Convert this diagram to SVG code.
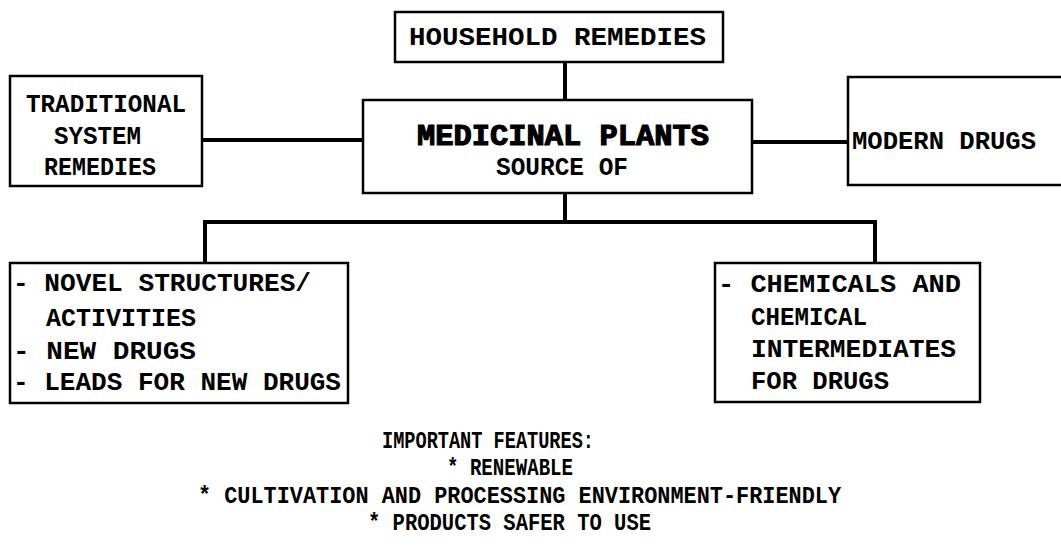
<svg xmlns="http://www.w3.org/2000/svg" width="1061" height="551" viewBox="0 0 1061 551">
<style>
.box{fill:#fff;stroke:#000;stroke-width:2.5}
.con{fill:none;stroke:#000;stroke-width:4}
text{font-family:"Liberation Mono","Courier New",monospace;font-weight:bold;font-size:25px;fill:#000}
.big{font-size:30px;stroke:#000;stroke-width:1.2}
.small{font-size:23px}
</style>
<rect width="1061" height="551" fill="#fff"/>
<g id="connectors">
<path class="con" d="M565,62 V100"/>
<path class="con" d="M202,140 H363"/>
<path class="con" d="M752,142 H848"/>
<path class="con" d="M565,193 V222 M205,263 V222 H875 V263"/>
</g>
<g id="household">
<rect class="box" x="395" y="12" width="328" height="50"/>
<text x="409" y="45" textLength="297" lengthAdjust="spacingAndGlyphs">HOUSEHOLD REMEDIES</text>
</g>
<g id="traditional">
<rect class="box" x="10" y="76" width="192" height="110"/>
<text x="26" y="112" textLength="160" lengthAdjust="spacingAndGlyphs">TRADITIONAL</text>
<text x="54" y="144" textLength="87" lengthAdjust="spacingAndGlyphs">SYSTEM</text>
<text x="44" y="175" textLength="112" lengthAdjust="spacingAndGlyphs">REMEDIES</text>
</g>
<g id="medicinal">
<rect class="box" x="363" y="100" width="389" height="93"/>
<text class="big" x="417" y="145" textLength="292" lengthAdjust="spacingAndGlyphs">MEDICINAL PLANTS</text>
<text x="496" y="175" textLength="132" lengthAdjust="spacingAndGlyphs">SOURCE OF</text>
</g>
<g id="modern">
<path class="box" d="M1065,77 H848 V185 H1065"/>
<text x="852" y="149" textLength="184" lengthAdjust="spacingAndGlyphs">MODERN DRUGS</text>
</g>
<g id="novel">
<rect class="box" x="10" y="263" width="338" height="140"/>
<text x="13" y="291" textLength="298" lengthAdjust="spacingAndGlyphs">- NOVEL STRUCTURES/</text>
<text x="46" y="326" textLength="150" lengthAdjust="spacingAndGlyphs">ACTIVITIES</text>
<text x="13" y="359" textLength="183" lengthAdjust="spacingAndGlyphs">- NEW DRUGS</text>
<text x="13" y="390" textLength="328" lengthAdjust="spacingAndGlyphs">- LEADS FOR NEW DRUGS</text>
</g>
<g id="chemicals">
<rect class="box" x="715" y="263" width="265" height="139"/>
<text x="718" y="292" textLength="243" lengthAdjust="spacingAndGlyphs">- CHEMICALS AND</text>
<text x="751" y="325" textLength="116" lengthAdjust="spacingAndGlyphs">CHEMICAL</text>
<text x="751" y="357" textLength="205" lengthAdjust="spacingAndGlyphs">INTERMEDIATES</text>
<text x="751" y="389" textLength="138" lengthAdjust="spacingAndGlyphs">FOR DRUGS</text>
</g>
<g id="features">
<text class="small" x="382" y="448" textLength="212" lengthAdjust="spacingAndGlyphs">IMPORTANT FEATURES:</text>
<text class="small" x="447" y="475" textLength="126" lengthAdjust="spacingAndGlyphs">* RENEWABLE</text>
<text class="small" x="198" y="503" textLength="643" lengthAdjust="spacingAndGlyphs">* CULTIVATION AND PROCESSING ENVIRONMENT-FRIENDLY</text>
<text class="small" x="368" y="530" textLength="283" lengthAdjust="spacingAndGlyphs">* PRODUCTS SAFER TO USE</text>
</g>
</svg>
